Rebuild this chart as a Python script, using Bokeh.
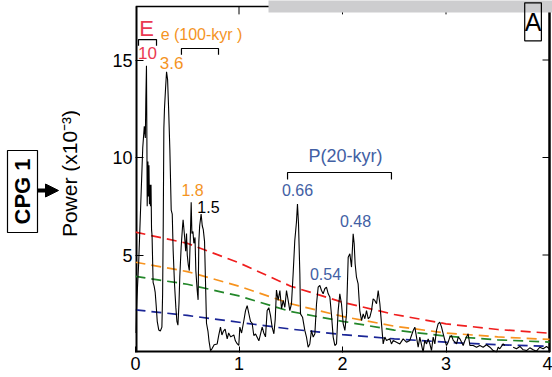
import math
from bokeh.plotting import figure
from bokeh.layouts import row
from bokeh.models import Range1d, FixedTicker, Label, Arrow, NormalHead, BoxAnnotation
from bokeh.embed import file_html
from bokeh.resources import INLINE

nan = float("nan")

# Spectrum (frequency, power x10^-3)
freq = [0.0, 0.013, 0.03, 0.05, 0.07, 0.085, 0.095, 0.1, 0.106, 0.11,
        0.113, 0.12, 0.125, 0.13, 0.135, 0.14, 0.145, 0.15, 0.155, 0.16,
        0.17, 0.18, 0.19, 0.2, 0.21, 0.225, 0.24, 0.255, 0.262, 0.268,
        0.274, 0.28, 0.29, 0.3, 0.31, 0.32, 0.332, 0.345, 0.355, 0.364,
        0.377, 0.39, 0.4, 0.41, 0.42, 0.428, 0.441, 0.455, 0.46, 0.465,
        0.475, 0.485, 0.493, 0.5, 0.51, 0.52, 0.53, 0.538, 0.545, 0.555,
        0.564, 0.575, 0.583, 0.596, 0.605, 0.612, 0.62, 0.634, 0.645, 0.655,
        0.667, 0.686, 0.7, 0.71, 0.725, 0.74, 0.76, 0.789, 0.805, 0.821,
        0.835, 0.85, 0.866, 0.886, 0.9, 0.92, 0.95, 0.965, 0.982, 0.998,
        1.008, 1.025, 1.047, 1.063, 1.079, 1.095, 1.111, 1.127, 1.143, 1.16,
        1.192, 1.224, 1.24, 1.256, 1.272, 1.288, 1.304, 1.32, 1.337, 1.35,
        1.362, 1.378, 1.395, 1.411, 1.427, 1.443, 1.459, 1.475, 1.491, 1.507,
        1.523, 1.539, 1.555, 1.565, 1.575, 1.588, 1.594, 1.614, 1.636, 1.652,
        1.668, 1.684, 1.7, 1.717, 1.733, 1.749, 1.765, 1.781, 1.797, 1.813,
        1.829, 1.845, 1.862, 1.878, 1.894, 1.91, 1.926, 1.942, 1.958, 1.974,
        1.99, 2.007, 2.023, 2.039, 2.055, 2.071, 2.087, 2.103, 2.113, 2.122,
        2.135, 2.151, 2.167, 2.184, 2.2, 2.216, 2.232, 2.248, 2.264, 2.28,
        2.296, 2.312, 2.329, 2.345, 2.361, 2.377, 2.393, 2.409, 2.425, 2.457,
        2.473, 2.49, 2.522, 2.554, 2.586, 2.618, 2.65, 2.683, 2.699, 2.715,
        2.731, 2.747, 2.779, 2.795, 2.812, 2.828, 2.844, 2.86, 2.876, 2.892,
        2.908, 2.924, 2.94, 2.957, 2.973, 2.989, 3.005, 3.021, 3.037, 3.053,
        3.07, 3.102, 3.118, 3.134, 3.166, 3.182, 3.198, 3.214, 3.231, 3.263,
        3.295, 3.327, 3.359, 3.391, 3.424, 3.456, 3.488, 3.504, 3.52, 3.552,
        3.568, 3.6, 3.649, 3.681, 3.714, 3.746, 3.778, 3.81, 3.842, 3.874,
        3.906, 3.939, 3.971, 4.0]
power = [1.0, 2.7, 4.5, 7.5, 10.5, 11.6, 11.0, 13.0, 14.7, 11.0,
         7.5, 9.8, 8.0, 9.6, 7.6, 8.6, 7.5, 8.6, 6.3, 6.0,
         3.6, 3.4, 3.1, 2.4, 1.6, 1.15, 1.1, 1.3, 3.0, 6.5,
         11.5, 12.5, 13.5, 14.4, 14.0, 12.5, 10.4, 7.3, 7.1, 5.2,
         3.5, 2.3, 1.6, 1.4, 2.5, 3.9, 5.4, 6.5, 6.8, 6.5,
         5.9, 5.2, 6.1, 5.0, 4.5, 4.2, 6.0, 7.7, 6.1, 6.2,
         5.6, 5.9, 4.2, 3.2, 2.7, 5.7, 6.5, 7.1, 6.5, 6.3,
         5.7, 1.5, 1.1, 0.6, 0.1, 0.2, 0.4, 0.44, 0.9, 1.3,
         0.9, 1.1, 1.2, 0.7, 1.0, 0.8, 0.9, 0.6, 0.45, 0.36,
         1.3, 1.0, 1.64, 2.15, 2.4, 2.0, 1.6, 1.5, 0.87, 0.95,
         0.6, 1.3, 1.0, 0.8, 2.15, 2.3, 1.9, 1.3, 0.96, 1.7,
         3.2, 2.67, 3.18, 2.24, 2.67, 2.32, 3.18, 2.67, 2.15, 2.5,
         4.03, 5.74, 6.68, 7.62, 6.6, 4.03, 1.98, 1.81, 1.13, 0.79,
         0.27, 0.44, 1.13, 0.79, 0.96, 2.5, 3.35, 3.44, 3.18, 3.01,
         3.27, 3.35, 3.01, 2.84, 1.9, 0.79, 0.36, 0.44, 2.15, 3.01,
         2.5, 1.47, 1.13, 1.98, 4.89, 5.06, 4.38, 6.09, 5.57, 4.55,
         3.86, 3.52, 2.15, 1.64, 1.98, 1.73, 2.15, 1.73, 1.81, 2.15,
         2.75, 2.67, 2.5, 3.18, 2.5, 1.47, 0.44, 0.79, 0.62, 0.7,
         0.44, 0.62, 0.53, 0.44, 0.7, 0.53, 0.62, 1.13, 1.3, 0.79,
         0.27, 0.79, 0.02, 0.62, 0.44, 0.7, 0.44, 0.1, 0.79, 0.44,
         1.13, 1.47, 1.56, 1.3, 0.96, 0.62, 0.36, 0.53, 0.79, 0.87,
         0.62, 0.44, 0.79, 0.7, 0.36, 0.6, 0.79, 0.96, 0.36, 0.36,
         0.27, 0.36, 0.27, 0.4, 0.27, 0.1, 0.02, 0.27, 0.19, 0.44,
         0.36, nan, 0.27, 0.19, 0.31, 0.14, 0.1, 0.24, 0.14, 0.07,
         0.27, 0.19, 0.31, 0.19]

# Confidence levels (red-noise curves)
conf_x = [0, 0.5, 1, 1.5, 2, 2.5, 3, 3.5, 4]
conf_red = [6.17, 5.6, 4.6, 3.4, 2.58, 1.95, 1.47, 1.18, 0.99]
conf_orange = [4.63, 4.15, 3.4, 2.5, 1.85, 1.35, 1.0, 0.8, 0.67]
conf_green = [3.9, 3.5, 2.9, 2.1, 1.6, 1.15, 0.84, 0.65, 0.53]
conf_blue = [2.19, 1.9, 1.55, 1.2, 0.92, 0.7, 0.53, 0.4, 0.32]

x_ticks = [0, 1, 2, 3, 4]
y_ticks = [5, 10, 15]
top_ticks = [1, 2, 3]

X_MAX, Y_MAX = 4.0, 17.75

FONT = "Liberation Sans"
RED_T = "#ea3a52"
ORANGE_T = "#f4941f"
BLUE_T = "#4260a4"

# ---------------- main panel ----------------
p = figure(width=472, height=377,
           x_range=Range1d(0, X_MAX + 3 / 103.5), y_range=Range1d(0, 352 / 19.5),
           output_backend="svg", toolbar_location=None,
           min_border_left=55, min_border_right=0, min_border_top=0, min_border_bottom=25)
p.grid.visible = False
p.outline_line_color = None
p.background_fill_color = "white"
p.border_fill_color = "white"

for ax, ticks, tin, stand in [(p.xaxis[0], x_ticks, 6, 4), (p.yaxis[0], y_ticks, 8, 3)]:
    ax.ticker = FixedTicker(ticks=ticks)
    ax.major_tick_in = tin
    ax.major_tick_out = 0
    ax.minor_tick_line_color = None
    ax.axis_line_color = None
    ax.major_tick_line_color = "black"
    ax.major_label_text_font = FONT
    ax.major_label_text_font_size = "18px"
    ax.major_label_text_color = "black"
    ax.major_label_standoff = stand
p.yaxis[0].major_label_text_baseline = "alphabetic"

# frame lines
p.line([0, 0], [0, Y_MAX], line_color="black", line_width=4)
p.line([0, X_MAX], [0, 0], line_color="black", line_width=4)
p.line([0, X_MAX], [Y_MAX, Y_MAX], line_color="black", line_width=1.5)
p.line([X_MAX, X_MAX], [0, Y_MAX], line_color="black", line_width=2.5)
# inward ticks on top and right
p.segment(x0=top_ticks, y0=[Y_MAX] * 3, x1=top_ticks, y1=[Y_MAX - 8 / 19.5] * 3,
          line_color="black", line_width=1)
p.segment(x0=[X_MAX] * 3, y0=y_ticks, x1=[X_MAX - 7 / 103.5] * 3, y1=y_ticks,
          line_color="black", line_width=1)

# Confidence curves
for ys, c in [(conf_red, "#f01e1e"), (conf_orange, "#f7931e"), (conf_green, "#23872a"), (conf_blue, "#1a2596")]:
    p.line(conf_x, ys, line_color=c, line_width=1.7, line_dash="10 6")

# Spectrum
p.line(freq, power, line_color="black", line_width=1.1)

# Brackets
def bracket(x0, x1, y, leg):
    p.line([x0, x0, x1, x1], [y - leg, y, y, y - leg], line_color="black", line_width=1.2)

bracket(0.029, 0.203, 16.05, 0.32)
bracket(0.444, 0.802, 15.59, 0.32)
bracket(1.469, 2.473, 9.23, 0.36)

def lab(x, y, text, color, size, style="normal"):
    p.add_layout(Label(x=x, y=y, text=text, text_color=color, text_font=FONT,
                       text_font_size=size, text_font_style=style,
                       text_align="center", text_baseline="middle"))

lab(0.106, 16.62, "E", RED_T, "22px")
lab(0.116, 15.38, "10", RED_T, "17px")
lab(0.638, 16.31, "e (100-kyr )", ORANGE_T, "16px")
lab(0.348, 14.87, "3.6", ORANGE_T, "17px")
lab(0.551, 8.31, "1.8", ORANGE_T, "16px")
lab(0.705, 7.44, "1.5", "black", "16px")
lab(2.03, 10.1, "P(20-kyr)", BLUE_T, "18px")
lab(1.565, 8.31, "0.66", BLUE_T, "16px")
lab(1.836, 4.05, "0.54", BLUE_T, "16px")
lab(2.126, 6.72, "0.48", BLUE_T, "16px")

# Gray strip at top right
p.add_layout(BoxAnnotation(left=1.285, right=4.2, bottom=17.44, top=19,
                           fill_color="#cdcdcf", fill_alpha=1, line_color=None))

# Panel letter
p.add_layout(Label(x=3.841, y=16.96, text="A", text_color="black", text_font=FONT,
                   text_font_size="25px", text_align="center", text_baseline="middle",
                   border_line_color="black", border_line_width=1.2, padding=(0, 5)))

# ---------------- left strip with labels (data units = pixels, y up from bottom) ----------------
s = figure(width=80, height=377, x_range=Range1d(0, 80), y_range=Range1d(25, 377),
           output_backend="svg", toolbar_location=None,
           min_border=0, min_border_left=0, min_border_right=0, min_border_top=0, min_border_bottom=25)
s.axis.visible = False
s.grid.visible = False
s.outline_line_color = None
s.background_fill_color = "white"
s.border_fill_color = "white"

s.add_layout(Label(x=69, y=377 - 173, text="Power (x10\u207b\u00b3)", angle=math.pi / 2,
                   text_font=FONT, text_font_size="21px", text_color="black",
                   text_align="center", text_baseline="middle"))
s.quad(left=7, right=37, top=377 - 150, bottom=377 - 232,
       fill_color=None, line_color="black", line_width=1.2)
s.add_layout(Label(x=22, y=377 - 191, text="CPG 1", angle=math.pi / 2,
                   text_font=FONT, text_font_size="22px", text_font_style="bold",
                   text_color="black", text_align="center", text_baseline="middle"))
s.add_layout(Arrow(end=NormalHead(size=13, fill_color="black", line_color="black"),
                   x_start=37, y_start=377 - 190, x_end=58, y_end=377 - 190,
                   line_width=4, line_color="black"))

layout = row(s, p, spacing=0)
open("out.html", "w").write(file_html(layout, INLINE))
